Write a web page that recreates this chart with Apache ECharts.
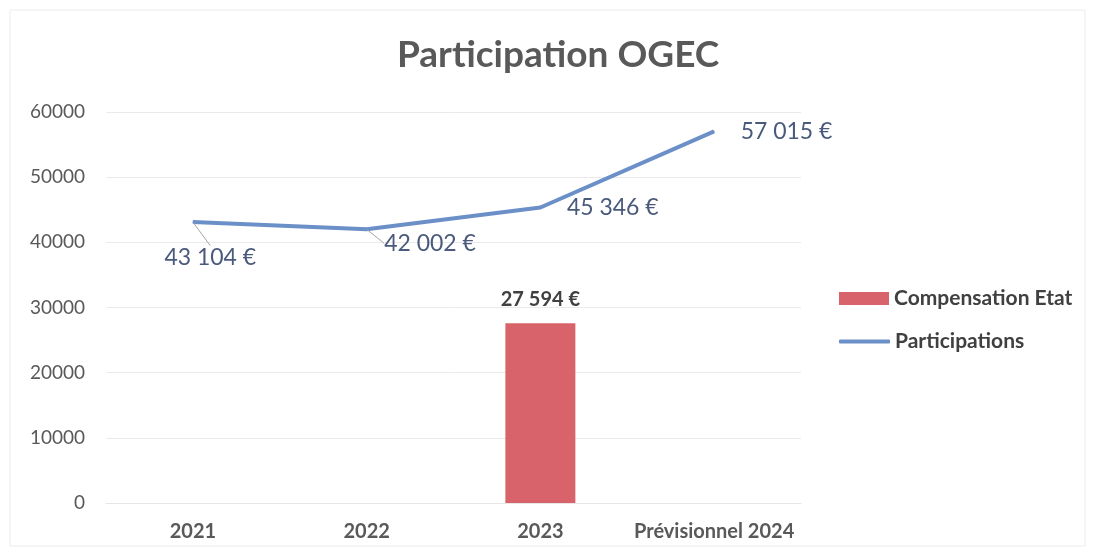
<!DOCTYPE html>
<html>
<head>
<meta charset="utf-8">
<script src="https://cdn.jsdelivr.net/npm/echarts@6/dist/echarts.min.js"></script>
<style>
  html, body { margin: 0; padding: 0; background: #fff; }
  #chart { width: 1095px; height: 556px; }
</style>
</head>
<body>
<div id="chart"></div>
<script>
(function (window, document, echarts) {

  // data
  var categories = ['2021', '2022', '2023', 'Prévisionnel 2024'];
  var compensation = ['-', '-', 27594, '-'];
  var participations = [43104, 42002, 45346, 57015];
  var yTicks = [0, 10000, 20000, 30000, 40000, 50000, 60000];

  // label shifts for the line values (dx, dy from the default right position)
  var lineLabelShift = [[-55, 35], [-9, 14], [0, 0], [0, 0]];

  function euro(v) {
    return String(v).replace(/\B(?=(\d{3})+(?!\d))/g, ' ') + ' €';
  }

  var chart = echarts.init(document.getElementById('chart'));
  var font = 'Lato, "Open Sans", sans-serif';

  var lineData = participations.map(function (v, i) {
    var moved = lineLabelShift[i][0] !== 0 || lineLabelShift[i][1] !== 0;
    return { value: v, labelLine: { show: moved } };
  });

  var option = {
    backgroundColor: '#fff',
    textStyle: { fontFamily: font },
    title: {
      text: 'Participation OGEC',
      left: 397,
      top: 37,
      padding: 0,
      textStyle: { fontFamily: font, fontSize: 37, fontWeight: 'bold', color: '#595959' }
    },
    graphic: [{
      type: 'rect',
      shape: { x: 10, y: 10, width: 1075, height: 536 },
      style: { fill: 'none', stroke: '#ececec', lineWidth: 1 },
      silent: true
    }],
    legend: [{
      data: ['Compensation Etat'],
      orient: 'vertical',
      left: 839,
      top: 288,
      itemWidth: 50,
      itemHeight: 13,
      icon: 'rect',
      padding: 0,
      selectedMode: false,
      textStyle: { fontFamily: font, fontSize: 21, fontWeight: 'bold', color: '#404040' }
    }, {
      data: ['Participations'],
      orient: 'vertical',
      left: 839,
      top: 331,
      itemWidth: 51,
      itemHeight: 4,
      icon: 'roundRect',
      padding: 0,
      selectedMode: false,
      textStyle: { fontFamily: font, fontSize: 21, fontWeight: 'bold', color: '#404040' }
    }],
    grid: { left: 106, right: 294, top: 112, bottom: 53, containLabel: false },
    xAxis: {
      type: 'category',
      data: categories,
      axisTick: { show: false },
      axisLine: { show: true, lineStyle: { color: '#e6e6e6', width: 1 } },
      axisLabel: { interval: 0, margin: 19, fontFamily: font, fontSize: 20, fontWeight: 'bold', color: '#595959' }
    },
    yAxis: {
      type: 'value',
      min: yTicks[0],
      max: yTicks[yTicks.length - 1],
      interval: yTicks[1] - yTicks[0],
      axisLine: { show: false },
      axisTick: { show: false },
      splitLine: { lineStyle: { color: '#eaeaea', width: 1 } },
      axisLabel: {
        margin: 21,
        formatter: function (v) { return String(v); },
        fontFamily: font, fontSize: 19, color: '#595959'
      }
    },
    series: [{
      name: 'Compensation Etat',
      type: 'bar',
      data: compensation,
      barWidth: 70,
      itemStyle: { color: '#d9636b' },
      label: {
        show: true,
        position: 'top',
        distance: 14,
        formatter: function (p) { return euro(p.value); },
        fontFamily: font,
        fontSize: 20,
        fontWeight: 'bold',
        color: '#404040'
      }
    }, {
      name: 'Participations',
      type: 'line',
      data: lineData,
      symbol: 'circle',
      symbolSize: 1,
      showSymbol: true,
      lineStyle: { color: '#6b8fc7', width: 4 },
      itemStyle: { color: '#6b8fc7' },
      label: {
        show: true,
        position: 'right',
        distance: 26,
        formatter: function (p) { return euro(p.value); },
        fontFamily: font,
        fontSize: 23,
        color: '#4a5a7c'
      },
      labelLine: { lineStyle: { color: '#a6a6a6', width: 1 } },
      labelLayout: function (p) {
        var s = lineLabelShift[p.dataIndex];
        return { dx: s[0], dy: s[1] };
      }
    }]
  };

  chart.setOption(option);

})(window, document, echarts);
</script>
</body>
</html>
